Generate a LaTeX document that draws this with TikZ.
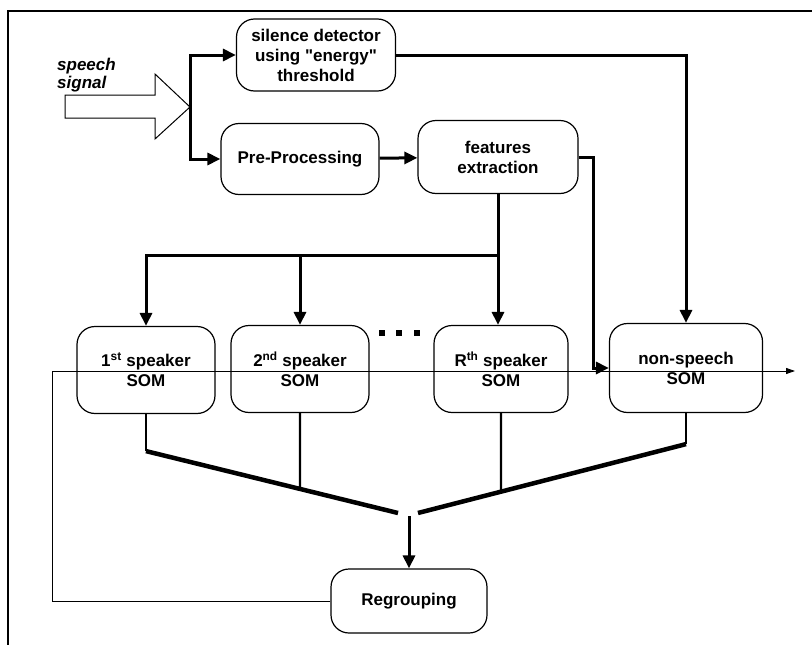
\documentclass[tikz,border=0pt]{standalone}
\usepackage{fontspec}
\setmainfont{Liberation Sans}[Ligatures=TeXOff]
\usetikzlibrary{arrows.meta, positioning, calc}
\newcommand{\blockfont}{\bfseries\fontsize{17}{20}\selectfont}
\tikzset{
  block/.style={rectangle, draw=black, align=center,
    rounded corners=18pt, line width=1.2pt, font=\blockfont},
  somblock/.style={block, minimum width=138pt, minimum height=87pt},
  arrow/.style={-{Triangle[length=13pt,width=12pt]}, line width=3pt},
  thinarrow/.style={-{Triangle[length=9pt,width=6pt]}, line width=0.9pt},
  stem/.style={line width=2.4pt},
  merge/.style={line width=4.5pt},
  frameline/.style={line width=1.5pt}
}

\begin{document}
\begin{tikzpicture}[x=1pt, y=-1pt]
  \useasboundingbox (0,0) rectangle (812,645);
  \draw[frameline] (812,11) -- (8,11) -- (8,645);

  % input signal
  \node[font=\bfseries\itshape\fontsize{17}{18}\selectfont, anchor=base west, inner sep=0pt] (speech) at (57,70) {speech};
  \node[font=\bfseries\itshape\fontsize{17}{18}\selectfont, anchor=base west, inner sep=0pt] (signal) at (57,88) {signal};
  \draw[line width=1pt] (65,95) -- (155,95) -- (155,74) -- (190,107) -- (155,139) -- (155,118) -- (65,118) -- cycle;
  \coordinate (split) at (190,107);

  % front end
  \node[block, minimum width=159pt, minimum height=72pt] (silence) at (316,55) {silence detector\\using "energy"\\threshold};
  \node[block, minimum width=158pt, minimum height=71pt] (prep) at (300,159) {Pre-Processing};
  \node[block, minimum width=160pt, minimum height=73pt] (feat) at (498,157) {features\\extraction};

  % SOM row
  \node[somblock] (som1) at (146,370) {1\textsuperscript{st} speaker\\SOM};
  \node[somblock] (som2) at (300,369) {2\textsuperscript{nd} speaker\\SOM};
  \node[somblock, minimum width=134pt] (somR) at (501,369) {R\textsuperscript{th} speaker\\SOM};
  \node[block, minimum width=153pt, minimum height=89pt] (nonsp) at (686,368) {non-speech\\SOM};
  \foreach \x in {382,399,417}
    \fill (\x-3,330) rectangle ++(6,6);

  \node[block, minimum width=156pt, minimum height=64pt] (regroup) at (409,601) {Regrouping};

  % connections
  \draw[arrow] (split) |- (silence.west);
  \draw[arrow] (split) |- (prep.west);
  \draw[arrow] (prep) -- (feat);
  \draw[arrow] (silence.east) -| (nonsp.north);
  \draw[arrow] (feat.east) -- ++(15,0) |- (nonsp.west);

  \coordinate (bus) at ($(feat.south)+(0,61)$);
  \draw[arrow] (feat.south) -- (feat.south |- somR.north);
  \draw[arrow] (bus) -| (som1.north);
  \draw[arrow] (som2.north |- bus) -- (som2.north);

  % merging into regrouping
  \coordinate (jl) at (398,513);
  \coordinate (jr) at (418,513);
  \coordinate (join) at (409,516);
  \draw[stem] (som1.south) -- ++(0,37) coordinate (kl);
  \draw[stem] (nonsp.south) -- ++(0,31) coordinate (kr);
  \draw[merge] (kl) -- (jl);
  \draw[merge] (kr) -- (jr);
  \draw[stem] (som2.south) -- (intersection of som2.south--som2.north and kl--jl);
  \draw[stem] (somR.south) -- (intersection of somR.south--somR.north and kr--jr);
  \draw[arrow] (join) -- (regroup.north);

  % feedback line
  \coordinate (fb) at (52,371);
  \coordinate (out) at (795,371);
  \draw[thinarrow] (regroup.west) -| (fb) -- (out);
\end{tikzpicture}
\end{document}
